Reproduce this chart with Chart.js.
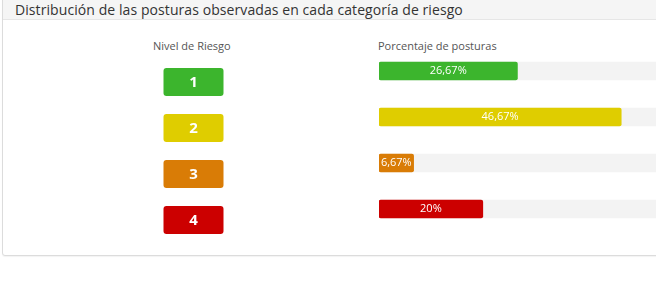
<!DOCTYPE html>
<html>
<head>
<meta charset="utf-8">
<script src="https://cdn.jsdelivr.net/npm/chart.js@4"></script>
<style>
  html, body { margin: 0; padding: 0; background: #fff; overflow: hidden; }
  body { width: 663px; height: 282px; position: relative; font-family: "Open Sans", sans-serif; }
  #clip { position: absolute; left: 0; top: 0; width: 656px; height: 282px; overflow: hidden; }
  #panel {
    position: absolute; left: 2px; top: -12px; width: 700px; height: 266px;
    border: 1px solid #dcdcdc; border-radius: 3px; box-shadow: 0 1px 1px rgba(0,0,0,0.05);
    background: #fff;
  }
  #head {
    position: absolute; left: 0; top: 0; right: 0; height: 30px;
    background: #f5f5f5; border-bottom: 1px solid #e6e6e6;
  }
  #title {
    position: absolute; left: 12px; top: 11px; font-size: 14px; color: #333; white-space: nowrap;
    letter-spacing: 0.08px;
  }
  .colhead { position: absolute; top: 38px; font-size: 11px; color: #555; white-space: nowrap; }
  #clip canvas { position: absolute; left: 0; top: 0; }
</style>
</head>
<body>
<div id="clip">
  <div id="panel"><div id="head"><div id="title">Distribución de las posturas observadas en cada categoría de riesgo</div></div></div>
  <div class="colhead" style="left:153px">Nivel de Riesgo</div>
  <div class="colhead" style="left:378px">Porcentaje de posturas</div>
  <canvas id="chart" width="900" height="282"></canvas>
</div>
<script>
// risk levels and share of postures per level
const riskLevels = ['1', '2', '3', '4'];
const percentages = [26.67, 46.67, 6.67, 20];
const levelColors = ['#3cb52d', '#dfcd00', '#d97c06', '#cc0000'];
const trackColor = '#f3f3f3';

function formatPct(v) {
    return (Number.isInteger(v) ? String(v) : v.toFixed(2).replace('.', ',')) + '%';
}

// draws the percentage inside each bar and the level badge on the left
const barDecor = {
    id: 'barDecor',
    afterDatasetsDraw(chart) {
        const ctx = chart.ctx;
        const meta = chart.getDatasetMeta(0);
        ctx.save();
        meta.data.forEach((bar, i) => {
            const cx = (bar.x + bar.base) / 2;
            ctx.fillStyle = '#fff';
            ctx.font = '11px "Open Sans", sans-serif';
            ctx.textAlign = 'center';
            ctx.textBaseline = 'middle';
            ctx.fillText(formatPct(percentages[i]), cx, bar.y);

            // badge
            const by = bar.y + 11;
            const bw = 60, bh = 28;
            const bx = 163.5;
            ctx.fillStyle = levelColors[i];
            ctx.beginPath();
            ctx.roundRect(bx, by - bh / 2, bw, bh, 3);
            ctx.fill();
            ctx.fillStyle = '#fff';
            ctx.font = 'bold 15px "Open Sans", sans-serif';
            ctx.fillText(riskLevels[i], bx + bw / 2, by + 1);
        });
        ctx.restore();
    }
};

new Chart(document.getElementById('chart'), {
    type: 'bar',
    data: {
        labels: riskLevels,
        datasets: [
            {
                data: percentages,
                backgroundColor: levelColors,
                barThickness: 18,
                borderRadius: 2,
                borderSkipped: false,
                grouped: false
            },
            {
                data: riskLevels.map(() => 100),
                backgroundColor: trackColor,
                barThickness: 18,
                borderRadius: 2,
                borderSkipped: false,
                grouped: false
            }
        ]
    },
    options: {
        indexAxis: 'y',
        responsive: false,
        animation: false,
        layout: { padding: { left: 379, right: 2, top: 48, bottom: 50 } },
        plugins: { legend: { display: false }, tooltip: { enabled: false } },
        scales: {
            x: { display: false, min: 0, max: 100 },
            y: { display: false }
        }
    },
    plugins: [barDecor]
});
</script>
</body>
</html>
